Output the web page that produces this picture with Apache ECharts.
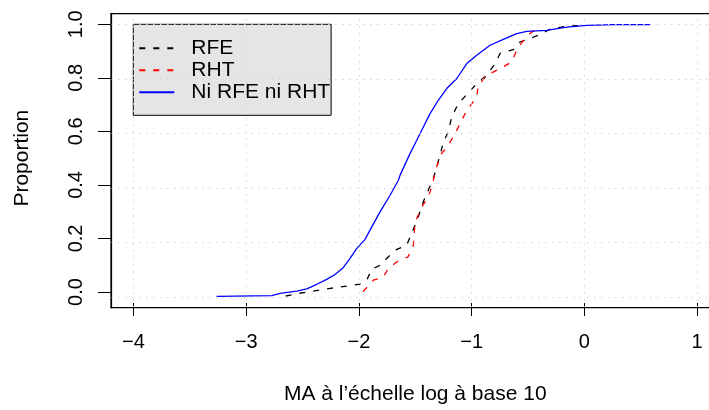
<!DOCTYPE html>
<html>
<head>
<meta charset="utf-8">
<script src="https://cdn.jsdelivr.net/npm/echarts@6/dist/echarts.min.js"></script>
<style>
html,body{margin:0;padding:0;background:#fff;}
#chart{width:709px;height:410px;}
</style>
</head>
<body>
<div id="chart"></div>
<script>
// ---- data ----
const xTicks = [-4, -3, -2, -1, 0, 1];
const yTicks = [0, 0.2, 0.4, 0.6, 0.8, 1.0];

const rfeX = [-2.65,-2.538,-2.405,-2.256,-2.108,-1.990,-1.931,-1.886,-1.813,-1.739,-1.665,-1.576,-1.532,-1.473,-1.429,-1.384,-1.340,-1.280,-1.251,-1.207,-1.177,-1.118,-1.043,-0.955,-0.866,-0.792,-0.748,-0.630,-0.571,-0.482,-0.408,-0.304,-0.156,-0.038];
const rfeY = [0.003,0.0125,0.021,0.031,0.039,0.047,0.061,0.101,0.116,0.147,0.174,0.190,0.233,0.294,0.349,0.392,0.435,0.520,0.569,0.606,0.661,0.710,0.743,0.783,0.814,0.857,0.894,0.908,0.936,0.949,0.961,0.983,0.994,0.997];

const rhtX = [-1.964,-1.872,-1.783,-1.739,-1.665,-1.564,-1.517,-1.502,-1.443,-1.413,-1.369,-1.340,-1.310,-1.280,-1.207,-1.147,-1.043,-0.955,-0.941,-0.866,-0.748,-0.644,-0.600,-0.541,-0.482,-0.422];
const rhtY = [0.019,0.061,0.073,0.104,0.128,0.147,0.190,0.274,0.330,0.349,0.385,0.428,0.477,0.520,0.557,0.600,0.685,0.734,0.777,0.814,0.838,0.863,0.906,0.942,0.967,0.985];

const niX = [-3.262,-2.774,-2.700,-2.552,-2.463,-2.374,-2.286,-2.212,-2.138,-2.079,-2.019,-1.946,-1.886,-1.813,-1.724,-1.650,-1.635,-1.547,-1.487,-1.443,-1.429,-1.369,-1.296,-1.221,-1.132,-1.043,-0.955,-0.837,-0.719,-0.600,-0.511,-0.334,-0.156,0.021,0.257,0.583];
const niY = [0.0015,0.004,0.0125,0.021,0.029,0.046,0.064,0.082,0.108,0.141,0.178,0.211,0.257,0.312,0.373,0.428,0.447,0.526,0.575,0.612,0.618,0.673,0.722,0.765,0.802,0.857,0.887,0.924,0.946,0.967,0.975,0.979,0.991,0.997,0.9995,1.0];

const seriesNames = ['RFE', 'RHT', 'Ni RFE ni RHT'];
const xTitle = 'MA à l’échelle log à base 10';
const yTitle = 'Proportion';

// ---- chart ----
const FONT = '"Liberation Sans", Arial, Helvetica, sans-serif';
const zip = (xs, ys) => xs.map((x, i) => [x, ys[i]]);
const fmtMinus = v => String(v).replace('-', '\u2212');

const chart = echarts.init(document.getElementById('chart'), null, {renderer: 'canvas'});

const gridLineStyle = () => ({color: '#d3d3d3', width: 1, type: [1.5, 5.5]});
const boxLine = () => ({show: true, onZero: false, lineStyle: {color: '#000', width: 1.2}});

const option = {
  animation: false,
  backgroundColor: '#ffffff',
  textStyle: {fontFamily: FONT},
  grid: [
    // plot box: left edge at 111, runs past the right edge of the canvas like the reference
    {left: 111, top: 13.7, right: 0, height: 294, show: false, containLabel: false},
    // tick span: -4..1 and 0..1
    {left: 133.5, right: 12, top: 24.3, bottom: 113.3, show: false, containLabel: false}
  ],
  xAxis: [
    {type: 'value', gridIndex: 0, min: -4.2, max: 1.1061, position: 'bottom',
      axisLine: boxLine(), axisTick: {show: false}, axisLabel: {show: false}, splitLine: {show: false}},
    {type: 'value', gridIndex: 0, min: -4.2, max: 1.1061, position: 'top',
      axisLine: boxLine(), axisTick: {show: false}, axisLabel: {show: false}, splitLine: {show: false}},
    {type: 'value', gridIndex: 1, min: -4, max: 1, interval: 1, offset: 11, position: 'bottom',
      axisLine: {show: false, onZero: false},
      axisTick: {show: true, length: 13, inside: false, lineStyle: {color: '#000', width: 1}},
      axisLabel: {show: true, fontSize: 20, color: '#000', margin: 29, fontFamily: FONT, formatter: v => fmtMinus(v)},
      splitLine: {show: false},
      name: xTitle, nameLocation: 'middle', nameGap: 81,
      nameTextStyle: {fontSize: 21, color: '#000', fontFamily: FONT}
    }
  ],
  yAxis: [
    {type: 'value', gridIndex: 0, min: -0.04, max: 1.04, position: 'left',
      axisLine: boxLine(), axisTick: {show: false}, axisLabel: {show: false}, splitLine: {show: false}},
    {type: 'value', gridIndex: 1, min: 0, max: 1, interval: 0.2, offset: 22.5, position: 'left',
      axisLine: {show: false, onZero: false},
      axisTick: {show: true, length: 13, inside: false, lineStyle: {color: '#000', width: 1}},
      axisLabel: {show: true, fontSize: 20, color: '#000', margin: 25, rotate: 90, fontFamily: FONT, formatter: v => v.toFixed(1)},
      splitLine: {show: false},
      name: yTitle, nameLocation: 'middle', nameGap: 78, nameRotate: 90,
      nameTextStyle: {fontSize: 21, color: '#000', fontFamily: FONT}
    }
  ],
  legend: {
    orient: 'vertical',
    left: 133.3, top: 24.3,
    padding: [13, 1, 12, 5],
    backgroundColor: '#e5e5e5',
    borderColor: '#000', borderWidth: 1, borderRadius: 0,
    itemWidth: 35, itemHeight: 14, itemGap: 0,
    selectedMode: false,
    itemStyle: {opacity: 0},
    textStyle: {fontSize: 21, color: '#000', fontFamily: FONT, lineHeight: 22, padding: [0, 0, 0, 12]},
    data: seriesNames
  },
  series: [
    {
      name: '_grid', type: 'line', xAxisIndex: 0, yAxisIndex: 0, data: [], silent: true, z: 1,
      markLine: {
        silent: true, symbol: ['none', 'none'], animation: false,
        label: {show: false},
        lineStyle: gridLineStyle(),
        data: xTicks.map(v => ({xAxis: v})).concat(yTicks.map(v => ({yAxis: v})))
      }
    },
    {
      name: seriesNames[0], type: 'line', xAxisIndex: 0, yAxisIndex: 0,
      data: zip(rfeX, rfeY), showSymbol: false, symbol: 'none',
      lineStyle: {color: '#000', width: 1.3, type: [6, 8]},
      itemStyle: {color: '#000'}
    },
    {
      name: seriesNames[1], type: 'line', xAxisIndex: 0, yAxisIndex: 0,
      data: zip(rhtX, rhtY), showSymbol: false, symbol: 'none',
      lineStyle: {color: '#ff0000', width: 1.3, type: [6, 8]},
      itemStyle: {color: '#ff0000'}
    },
    {
      name: seriesNames[2], type: 'line', xAxisIndex: 0, yAxisIndex: 0,
      data: zip(niX, niY), showSymbol: false, symbol: 'none',
      lineStyle: {color: '#0000ff', width: 1.3, type: 'solid'},
      itemStyle: {color: '#0000ff'}
    }
  ]
};
chart.setOption(option);

// plot frame (R's box()), taken from grid 0's rectangle; its right side lies beyond the canvas
const r = chart.getModel().getComponent('grid', 0).coordinateSystem.getRect();
chart.setOption({
  graphic: [{
    type: 'rect', silent: true, z: 50,
    shape: {x: r.x, y: r.y, width: r.width + 20, height: r.height},
    style: {fill: 'none', stroke: '#000', lineWidth: 1.2}
  }]
});
</script>
</body>
</html>
